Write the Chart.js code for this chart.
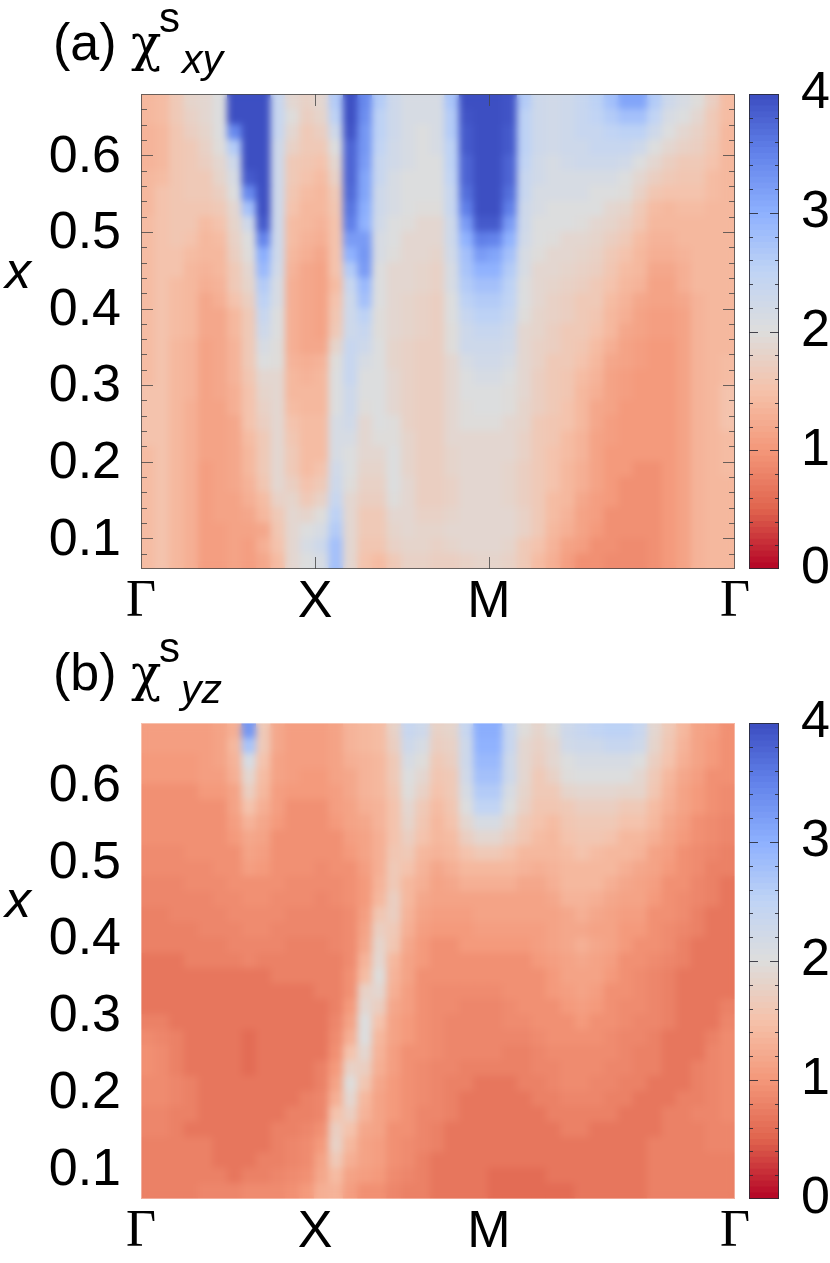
<!DOCTYPE html>
<html>
<head>
<meta charset="utf-8">
<script src="https://cdn.jsdelivr.net/npm/chart.js@4"></script>
<style>
    body { margin: 0; background: #fff; width: 830px; height: 1263px; position: relative; overflow: hidden; }
    canvas { position: absolute; left: 0; }
    .txt { position: absolute; white-space: nowrap; color: #000; line-height: 1; font-family: "Liberation Sans", sans-serif; }
</style>
</head>
<body>
<script>
// rows of doping x, top to bottom
const xRows = [0.67, 0.65, 0.63, 0.61, 0.59, 0.57, 0.55, 0.53, 0.51, 0.49, 0.47, 0.45, 0.43, 0.41, 0.39, 0.37,
    0.35, 0.33, 0.31, 0.29, 0.27, 0.25, 0.23, 0.21, 0.19, 0.17, 0.15, 0.13, 0.11, 0.09, 0.07];
const pathEnd = 3.414;
const pathTicks = [0, 1, 2, 3.414];
const pathLabels = ["Γ", "X", "M", "Γ"];
const yTicks = [0.1, 0.2, 0.3, 0.4, 0.5, 0.6];
const yMinorTicks = [0.08, 0.12, 0.14, 0.16, 0.18, 0.22, 0.24, 0.26, 0.28, 0.32, 0.34, 0.36, 0.38, 0.42, 0.44,
    0.46, 0.48, 0.52, 0.54, 0.56, 0.58, 0.62, 0.64, 0.66];
const barTicks = [0, 1, 2, 3, 4];
const barMinorTicks = [0.2, 0.4, 0.6, 0.8, 1.2, 1.4, 1.6, 1.8, 2.2, 2.4, 2.6, 2.8, 3.2, 3.4, 3.6, 3.8];

// chi^s_xy, in hundredths
const chiXY = [
    [135,145,165,180,190,205,400,400,400,240,190,175,185,260,400,340,260,225,215,210,215,270,395,400,400,390,260,225,220,225,235,250,280,310,310,265,225,210,195,170,145],
    [135,145,160,175,185,205,400,400,400,235,195,170,180,250,400,335,255,225,215,210,215,265,390,400,400,390,255,225,220,225,235,245,265,280,280,245,215,200,185,165,145],
    [130,140,155,170,180,200,340,400,400,235,185,165,170,225,390,330,250,225,215,205,210,260,385,400,400,385,250,225,220,225,235,240,245,255,250,225,200,190,175,160,140],
    [130,140,155,165,175,195,265,400,400,230,175,160,160,200,380,325,245,220,210,205,210,255,385,400,400,385,250,225,220,225,230,235,235,240,225,205,185,175,170,155,140],
    [130,140,155,165,170,190,225,400,400,230,165,155,150,185,380,320,240,220,210,205,205,250,380,400,400,380,245,220,215,220,225,225,225,220,205,185,170,165,160,150,140],
    [135,145,155,160,165,180,210,385,400,230,160,150,145,175,375,315,235,215,205,200,205,245,375,400,400,375,240,220,215,215,215,215,215,205,190,170,160,155,155,145,135],
    [140,150,155,160,160,170,200,340,400,230,155,145,140,165,370,310,230,215,205,200,200,240,365,400,400,365,235,215,210,210,210,205,200,195,175,155,150,150,150,145,135],
    [140,150,155,155,155,160,190,280,395,230,150,140,135,155,360,300,225,210,200,195,195,235,350,395,395,350,230,210,205,205,200,200,190,180,165,145,140,145,145,140,135],
    [145,150,155,155,145,150,180,225,385,230,145,135,130,150,350,295,220,205,195,190,190,230,320,385,385,320,225,205,200,200,195,190,180,170,155,135,135,140,140,140,135],
    [145,150,155,150,140,145,175,205,345,230,145,130,125,150,320,320,215,200,190,185,185,225,295,350,345,295,220,200,195,190,185,180,170,160,145,130,130,135,140,140,135],
    [145,150,150,145,135,140,170,195,305,225,140,125,120,150,295,330,210,195,190,185,180,220,280,320,315,280,215,195,190,185,180,175,165,150,140,125,125,130,135,135,135],
    [145,150,150,140,130,135,165,185,285,220,130,120,115,150,260,320,205,190,185,180,175,215,270,295,295,265,210,190,185,180,175,170,155,145,135,120,120,125,135,135,135],
    [145,150,145,140,125,130,160,180,265,215,125,120,115,145,240,290,200,190,185,180,175,210,260,280,280,255,205,190,180,175,170,165,150,140,130,115,115,125,135,135,135],
    [145,150,145,135,120,125,150,170,250,210,125,120,115,150,225,275,200,185,180,175,170,205,250,265,265,245,200,185,175,170,165,160,145,130,120,110,110,120,130,135,135],
    [145,150,145,135,120,120,140,165,235,205,125,120,115,155,225,255,195,185,180,175,170,200,240,255,255,235,195,180,175,170,165,155,140,125,115,105,105,115,130,135,135],
    [145,150,145,135,120,120,135,160,225,200,125,120,115,165,230,240,195,185,180,175,170,195,230,240,240,225,190,180,170,165,160,150,135,120,110,105,105,115,130,135,140],
    [145,150,140,130,115,120,130,160,215,195,125,120,120,180,240,225,200,180,175,170,170,195,225,230,230,220,190,175,170,160,155,145,125,115,105,100,100,115,130,135,140],
    [145,150,140,130,115,120,130,160,200,195,130,125,130,195,240,215,205,180,175,170,170,190,215,220,220,210,185,175,165,160,150,135,120,110,105,100,100,115,130,135,145],
    [145,150,140,130,115,120,130,155,185,190,135,130,135,200,235,205,205,185,175,170,170,190,205,210,210,200,185,170,165,155,145,130,115,105,100,100,100,115,130,135,145],
    [150,150,140,130,115,120,125,150,180,190,140,135,140,205,230,200,205,185,175,170,170,190,200,205,205,195,185,170,160,155,140,125,110,105,100,100,100,115,130,140,150],
    [150,150,140,125,115,115,125,150,175,190,145,140,140,205,225,195,205,190,175,170,170,190,195,200,200,195,180,170,160,150,135,120,110,100,100,100,100,115,130,140,150],
    [150,150,140,125,110,115,120,150,170,190,150,145,145,210,220,190,200,195,175,170,170,185,195,195,195,190,180,165,155,150,135,120,105,100,100,100,100,115,130,140,150],
    [150,150,140,125,110,110,120,145,165,190,155,145,145,215,215,190,195,195,180,170,170,185,190,190,190,185,175,165,155,145,130,115,105,100,100,100,100,115,130,140,145],
    [145,150,140,125,110,110,120,140,165,190,160,145,145,215,205,185,190,200,180,170,170,180,185,190,190,185,175,165,150,145,130,115,100,100,100,100,100,115,130,140,145],
    [145,150,140,125,105,110,120,135,160,190,165,145,150,220,205,180,180,200,180,170,170,180,185,185,185,180,170,160,150,140,125,110,100,100,95,95,100,115,130,135,145],
    [145,150,140,125,105,110,120,130,155,185,170,150,160,225,195,175,175,200,185,170,170,175,185,185,185,180,170,160,150,140,125,110,100,95,95,95,100,115,130,135,140],
    [145,150,140,125,105,110,115,125,145,175,180,165,175,235,190,170,170,195,190,170,170,175,185,185,185,180,170,160,145,135,120,105,100,95,90,95,100,115,130,135,140],
    [145,150,140,125,105,110,115,120,140,165,185,180,195,250,190,165,165,190,190,175,175,180,190,190,190,185,175,160,145,130,115,105,95,90,90,95,100,115,130,135,140],
    [145,150,140,125,105,105,110,115,120,155,185,200,215,265,190,160,160,180,190,180,180,185,190,190,190,185,175,160,140,125,110,100,95,90,90,95,100,115,130,135,140],
    [145,150,140,125,105,105,110,105,125,150,190,210,225,280,190,155,155,175,180,180,175,180,185,185,185,180,165,150,130,115,105,95,90,85,85,90,100,115,130,135,140],
    [145,150,140,125,105,105,110,105,120,145,190,205,215,275,190,150,145,165,175,175,170,170,175,180,180,175,160,145,125,105,95,90,85,85,85,90,100,115,130,135,140],
];

// chi^s_yz, in hundredths
const chiYZ = [
    [105,105,105,105,105,110,125,330,165,120,105,105,105,115,130,140,145,175,240,225,175,180,240,300,300,240,195,180,195,230,240,245,250,250,240,190,160,135,115,105,95],
    [105,105,105,105,105,110,135,270,160,120,105,105,105,115,130,135,145,170,225,210,170,175,230,295,295,235,190,175,190,220,225,230,235,235,225,180,155,130,115,100,95],
    [100,100,100,100,105,110,130,210,150,115,105,105,105,115,125,130,140,165,215,195,165,170,225,290,290,230,185,170,185,205,210,215,215,215,205,170,150,125,110,100,90],
    [100,100,100,100,105,105,125,185,145,110,105,100,100,110,120,130,135,160,205,185,155,165,220,280,280,225,185,165,175,195,200,205,205,200,190,165,140,120,105,95,90],
    [95,95,95,95,100,100,115,170,135,105,100,100,100,105,120,130,135,155,195,175,150,160,215,265,265,215,180,160,165,180,185,185,185,180,180,155,130,115,100,95,85],
    [95,95,95,95,95,95,110,150,125,105,95,95,95,105,115,125,130,150,190,165,145,155,205,245,245,205,175,155,155,165,170,170,170,165,165,145,125,110,100,90,85],
    [90,90,90,95,95,95,105,130,120,100,95,95,95,100,110,120,130,150,180,155,140,150,190,215,215,190,165,150,145,155,160,160,160,150,150,135,120,105,95,85,80],
    [90,90,90,90,90,95,100,120,110,95,90,90,90,95,105,115,125,150,170,150,135,145,170,185,185,170,155,145,140,150,155,155,150,140,140,125,110,100,90,85,80],
    [85,85,85,90,90,90,95,110,105,95,90,90,90,95,100,110,125,155,165,140,130,135,150,160,160,150,140,135,135,145,150,145,140,135,130,115,105,95,85,80,75],
    [85,85,85,85,85,90,90,105,100,90,90,90,85,90,95,105,125,160,150,130,120,125,135,140,140,135,130,125,130,140,140,140,135,125,120,110,100,90,85,75,75],
    [80,80,80,85,85,85,90,95,95,90,85,85,85,85,90,100,130,165,140,125,115,120,125,125,125,125,120,120,125,135,135,135,125,120,115,105,95,90,80,75,70],
    [80,80,80,80,80,85,85,90,90,85,85,85,80,85,90,100,140,170,135,120,110,110,115,115,115,115,115,115,120,130,130,125,120,110,110,100,90,85,80,75,70],
    [75,75,80,80,80,80,85,85,85,85,80,80,80,80,85,105,155,170,130,110,105,105,105,110,110,110,110,110,115,120,125,120,115,105,105,95,90,85,75,70,70],
    [75,75,75,75,80,80,80,85,85,80,80,80,80,80,85,110,170,165,125,105,100,100,100,105,105,105,105,105,110,120,120,115,110,100,100,95,85,80,75,70,70],
    [75,75,75,75,75,75,80,80,80,80,75,75,75,80,85,120,180,155,120,100,95,95,100,100,100,100,100,105,110,120,125,120,110,100,95,90,85,75,70,65,70],
    [70,70,70,75,75,75,75,80,75,75,75,75,75,75,85,130,190,140,115,100,90,90,95,95,95,95,95,100,105,115,120,115,105,95,90,85,80,75,70,65,70],
    [70,70,70,70,70,70,70,70,70,75,75,75,75,75,90,145,195,130,110,95,90,90,90,90,90,90,95,95,100,110,115,110,100,90,85,80,75,70,65,65,70],
    [70,70,70,70,70,70,70,65,70,70,70,70,75,75,95,175,190,125,105,95,85,85,85,85,85,90,90,95,100,105,110,105,95,90,85,80,75,70,65,65,70],
    [70,70,70,70,70,65,65,65,65,70,70,70,70,75,100,190,170,120,105,95,85,85,80,80,80,85,90,90,95,100,105,100,95,85,85,80,75,70,65,70,75],
    [75,75,70,70,70,65,65,65,65,65,70,70,70,80,110,200,150,115,100,90,85,80,80,80,80,85,85,90,90,95,100,95,90,85,80,80,75,70,65,70,80],
    [85,80,75,70,65,65,65,60,65,65,70,70,70,85,125,200,135,110,100,90,85,80,80,80,80,80,80,85,90,90,90,90,85,80,80,75,70,65,70,75,85],
    [90,85,75,70,65,65,65,60,65,65,70,70,70,90,150,190,130,105,95,90,85,80,80,80,80,75,75,80,85,85,85,85,85,80,75,75,70,65,70,80,85],
    [90,85,75,70,65,65,65,60,65,70,70,70,75,100,175,170,125,105,95,85,80,80,75,75,75,75,75,80,80,85,85,85,80,80,75,75,70,65,75,80,85],
    [85,85,80,75,70,65,65,65,65,70,70,70,75,110,195,155,120,100,90,85,80,75,75,70,70,70,75,75,80,85,85,80,80,75,75,70,70,70,75,80,85],
    [85,85,80,75,70,65,65,65,70,70,70,75,80,125,190,140,115,100,90,85,80,75,70,70,70,70,70,75,75,80,80,80,75,75,70,70,70,75,75,80,85],
    [80,80,75,75,70,70,65,65,70,70,75,75,80,150,170,130,110,100,90,80,80,75,70,65,65,70,70,70,75,75,75,75,75,70,70,70,75,75,80,80,85],
    [80,80,75,70,70,70,65,65,70,75,75,80,90,170,150,120,110,95,90,80,75,70,65,65,65,65,70,70,70,75,75,70,70,70,70,70,75,75,75,80,80],
    [75,75,75,75,75,70,65,70,70,75,80,85,100,175,135,115,105,90,85,80,75,70,65,65,65,65,65,65,65,70,70,70,70,70,70,75,75,75,75,80,80],
    [75,75,75,75,75,70,65,70,75,75,80,85,110,165,125,110,105,90,85,75,70,65,65,65,65,65,65,65,65,65,70,70,70,70,70,75,75,75,75,75,75],
    [75,75,75,75,75,75,70,75,75,80,85,90,120,145,115,105,100,85,80,75,70,65,65,65,60,60,60,60,65,65,65,65,65,65,70,75,75,75,75,75,75],
    [75,75,75,75,80,80,80,85,85,85,90,100,125,130,105,95,90,80,75,75,70,70,65,65,60,60,60,60,60,60,65,65,65,65,65,75,75,75,75,75,75],
];

const colorStops = [
    [180, 4, 38], [224, 100, 78], [244, 152, 122], [245, 194, 170], [221, 221, 221],
    [192, 212, 245], [141, 176, 254], [98, 130, 234], [59, 76, 192],
];
const bandWidth = 0.05;

function colorFor(value) {
    // palette is stepped like the colour bar
    const v = Math.min(3.999, Math.max(0, value));
    const mid = (Math.floor(v / bandWidth) + 0.5) * bandWidth;
    const pos = mid * 2;
    const i = Math.floor(pos);
    const t = pos - i;
    const a = colorStops[i];
    const b = colorStops[i + 1];
    return `rgb(${a.map((c, k) => Math.round(c + (b[k] - c) * t)).join(",")})`;
}

const sansFont = "'Liberation Sans', sans-serif";
const serifFont = "'Liberation Serif', serif";

// softens the cell edges, the original map is much finer than our grid
const softenCells = {
    id: "softenCells",
    afterDatasetsDraw(chart) {
        const area = chart.chartArea;
        const w = area.right - area.left;
        const h = area.bottom - area.top;
        const copy = document.createElement("canvas");
        copy.width = w;
        copy.height = h;
        copy.getContext("2d").drawImage(chart.canvas, area.left, area.top, w, h, 0, 0, w, h);
        const ctx = chart.ctx;
        ctx.save();
        ctx.beginPath();
        ctx.rect(area.left, area.top, w, h);
        ctx.clip();
        ctx.filter = "blur(3.5px)";
        ctx.drawImage(copy, area.left, area.top);
        ctx.restore();
    },
};

const insideTicks = {
    id: "insideTicks",
    afterDraw(chart, args, opts) {
        const ctx = chart.ctx;
        const area = chart.chartArea;
        const y = chart.scales.y;
        ctx.save();
        ctx.strokeStyle = opts.color;
        ctx.lineWidth = 1;
        ctx.strokeRect(area.left + 0.5, area.top + 0.5, area.right - area.left - 1, area.bottom - area.top - 1);
        ctx.beginPath();
        opts.majorY.concat(opts.minorY).forEach((v, i) => {
            const len = i < opts.majorY.length ? opts.majorLen : opts.minorLen;
            const py = Math.round(y.getPixelForValue(v)) + 0.5;
            ctx.moveTo(area.left, py);
            ctx.lineTo(area.left + len, py);
            ctx.moveTo(area.right, py);
            ctx.lineTo(area.right - len, py);
        });
        if (opts.majorX) {
            opts.majorX.forEach((v) => {
                const px = Math.round(chart.scales.x.getPixelForValue(v)) + 0.5;
                ctx.moveTo(px, area.top);
                ctx.lineTo(px, area.top + opts.majorLen);
                ctx.moveTo(px, area.bottom);
                ctx.lineTo(px, area.bottom - opts.majorLen);
            });
        }
        ctx.stroke();
        ctx.restore();
    },
};

function addCanvas(left, top, width, height) {
    const canvas = document.createElement("canvas");
    canvas.width = width;
    canvas.height = height;
    canvas.style.left = left + "px";
    canvas.style.top = top + "px";
    document.body.appendChild(canvas);
    return canvas;
}

function heatChart(rows, top, plotHeight, tickStyle) {
    const cells = [];
    const dx = pathEnd / rows[0].length;
    rows.forEach((row, r) => {
        row.forEach((v, c) => {
            cells.push({ x: (c + 0.5) * dx, y: xRows[r], v: v / 100 });
        });
    });
    const canvasHeight = 640;
    return new Chart(addCanvas(0, top, 830, canvasHeight), {
        type: "scatter",
        data: {
            datasets: [
                {
                    data: cells,
                    showLine: false,
                    clip: 0,
                    pointStyle: "rect",
                    pointBorderWidth: 0,
                    pointBackgroundColor: (c) => colorFor(c.raw.v),
                    pointRadius: (c) => {
                        // square side just over one cell so no seams show
                        const s = c.chart.scales;
                        const w = s.x.getPixelForValue(dx) - s.x.getPixelForValue(0);
                        const h = s.y.getPixelForValue(0.06) - s.y.getPixelForValue(0.08);
                        return (Math.max(w, h) + 1) / Math.SQRT2;
                    },
                },
            ],
        },
        options: {
            responsive: false,
            animation: false,
            layout: { padding: { top: 94, right: 95, left: 0, bottom: 0 } },
            plugins: {
                legend: { display: false },
                tooltip: { enabled: false },
                insideTicks: tickStyle,
            },
            scales: {
                x: {
                    type: "linear",
                    min: 0,
                    max: pathEnd,
                    grid: { display: false },
                    border: { display: false },
                    afterBuildTicks: (axis) => {
                        axis.ticks = pathTicks.map((v) => ({ value: v }));
                    },
                    afterFit: (axis) => {
                        axis.height = canvasHeight - 94 - plotHeight;
                    },
                    ticks: {
                        autoSkip: false,
                        maxRotation: 0,
                        padding: -6,
                        color: "#000",
                        callback: (v, i) => pathLabels[i],
                        font: (c) => ({
                            family: c.tick && c.tick.label === "Γ" ? serifFont : sansFont,
                            size: 52,
                        }),
                    },
                },
                y: {
                    type: "linear",
                    min: 0.06,
                    max: 0.68,
                    grid: { display: false },
                    border: { display: false },
                    afterBuildTicks: (axis) => {
                        axis.ticks = yTicks.map((v) => ({ value: v }));
                    },
                    afterFit: (axis) => {
                        axis.width = 141;
                    },
                    ticks: {
                        autoSkip: false,
                        padding: 12,
                        labelOffset: 2,
                        color: "#000",
                        callback: (v) => v.toFixed(1),
                        font: { family: sansFont, size: 52 },
                    },
                },
            },
        },
        plugins: [softenCells, insideTicks],
    });
}

function colorBar(top, plotHeight) {
    const bands = [];
    for (let lo = 0; lo < 3.999; lo += bandWidth) {
        bands.push({
            data: [[lo, lo + bandWidth]],
            backgroundColor: colorFor(lo + bandWidth / 2),
            inflateAmount: 0.5,
        });
    }
    const canvasHeight = 640;
    return new Chart(addCanvas(745, top, 85, canvasHeight), {
        type: "bar",
        data: { labels: [""], datasets: bands },
        options: {
            responsive: false,
            animation: false,
            datasets: { bar: { grouped: false, barPercentage: 1, categoryPercentage: 1 } },
            layout: { padding: { top: 94, left: 4, right: 0, bottom: canvasHeight - 94 - plotHeight } },
            plugins: {
                legend: { display: false },
                tooltip: { enabled: false },
                insideTicks: {
                    color: "rgba(40,40,50,0.85)",
                    majorY: barTicks.slice(1, 4),
                    minorY: barMinorTicks,
                    majorLen: 9,
                    minorLen: 4,
                },
            },
            scales: {
                x: { display: false },
                y: {
                    position: "right",
                    min: 0,
                    max: 4,
                    grid: { display: false },
                    border: { display: false },
                    afterBuildTicks: (axis) => {
                        axis.ticks = barTicks.map((v) => ({ value: v }));
                    },
                    afterFit: (axis) => {
                        axis.width = 51;
                    },
                    ticks: {
                        autoSkip: false,
                        padding: 14,
                        color: "#000",
                        font: { family: sansFont, size: 52 },
                    },
                },
            },
        },
        plugins: [insideTicks],
    });
}

function putText(text, left, baseline, size, extra) {
    const el = document.createElement("span");
    el.className = "txt";
    el.textContent = text;
    el.style.fontSize = size + "px";
    el.style.left = left + "px";
    const ratio = extra && extra.serif ? 0.8375 : 0.8465;
    el.style.top = baseline - ratio * size + "px";
    if (extra && extra.italic) el.style.fontStyle = "italic";
    if (extra && extra.serif) el.style.fontFamily = "'DejaVu Serif', serif";
    document.body.appendChild(el);
}

heatChart(chiXY, 0, 475, {
    color: "rgba(70,70,70,0.8)",
    majorY: yTicks,
    minorY: yMinorTicks,
    majorX: pathTicks.slice(1, 3),
    majorLen: 12,
    minorLen: 6,
});
colorBar(0, 475);
heatChart(chiYZ, 629, 476, {
    color: "rgba(255,255,255,0.35)",
    majorY: [],
    minorY: [],
    majorLen: 0,
    minorLen: 0,
});
colorBar(629, 476);

putText("(a)", 53, 60, 52);
putText("χ", 131, 60, 50, { serif: true });
putText("s", 159, 33, 42);
putText("xy", 182, 74, 41, { italic: true });
putText("x", 5, 288, 52, { italic: true });

putText("(b)", 53, 690, 52);
putText("χ", 131, 690, 50, { serif: true });
putText("s", 159, 663, 42);
putText("yz", 181, 704, 41, { italic: true });
putText("x", 5, 917, 52, { italic: true });
</script>
</body>
</html>
